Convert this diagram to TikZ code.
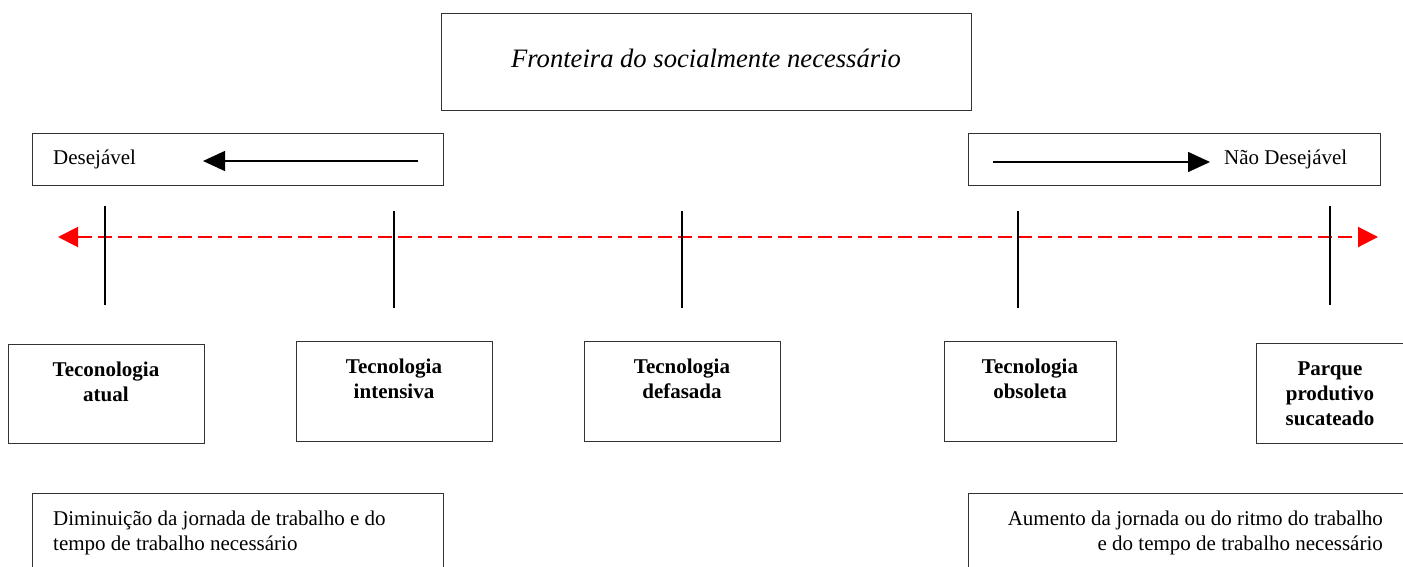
\documentclass[tikz,border=0pt]{standalone}
\usepackage{fontspec}
\setmainfont{Liberation Serif}
\usetikzlibrary{arrows.meta}
\begin{document}
\begin{tikzpicture}[x=1pt,y=-1pt,
  box/.style={draw=black!80, line width=1.2pt, inner sep=0pt, anchor=north west},
  txt/.style={inner sep=0pt, font=\fontsize{21}{25}\selectfont},
  btxt/.style={inner sep=0pt, font=\fontsize{21}{25}\selectfont\bfseries, align=center, anchor=north},
  vline/.style={line width=2pt},
  harrow/.style={line width=1.5pt, -{Triangle[length=22pt,width=20pt]}},
  redline/.style={draw=red, line width=2pt, dash pattern=on 14pt off 6pt,
     {Triangle[length=20pt,width=20pt]}-{Triangle[length=20pt,width=20pt]}}]
\useasboundingbox (0,0) rectangle (1403,567);
\clip (0,0) rectangle (1403,567);

% top box
\node[box, minimum width=530pt, minimum height=97pt] (top) at (441,13) {};
\node[inner sep=0pt, font=\fontsize{26.6}{30}\selectfont\itshape] (title) at (706,58) {Fronteira do socialmente necessário};

% desejavel boxes
\node[box, minimum width=411pt, minimum height=52pt] (des) at (32,133) {};
\node[txt, anchor=west] (destxt) at (53,159) {Desejável};
\coordinate (da) at (418,161);
\coordinate (db) at (203,161);
\draw[harrow] (da) -- (db);

\node[box, minimum width=412pt, minimum height=52pt] (ndes) at (968,133) {};
\node[txt, anchor=west] (ndestxt) at (1224,159) {Não Desejável};
\coordinate (na) at (993,162);
\coordinate (nb) at (1210,162);
\draw[harrow] (na) -- (nb);

% red dashed axis
\coordinate (rl) at (58,237);
\coordinate (rr) at (1378,237);
\draw[redline] (rl) -- (rr);

% vertical ticks
\coordinate (v1a) at (105,206); \coordinate (v1b) at (105,305);
\coordinate (v2a) at (394,211); \coordinate (v2b) at (394,308);
\coordinate (v3a) at (682,211); \coordinate (v3b) at (682,308);
\coordinate (v4a) at (1018,211); \coordinate (v4b) at (1018,308);
\coordinate (v5a) at (1330,206); \coordinate (v5b) at (1330,305);
\draw[vline] (v1a) -- (v1b);
\draw[vline] (v2a) -- (v2b);
\draw[vline] (v3a) -- (v3b);
\draw[vline] (v4a) -- (v4b);
\draw[vline] (v5a) -- (v5b);

% technology boxes
\node[box, minimum width=196pt, minimum height=99pt] (b1) at (8,344) {};
\node[btxt] (t1) at (106,362) {Teconologia\\atual};
\node[box, minimum width=196pt, minimum height=100pt] (b2) at (296,341) {};
\node[btxt] (t2) at (394,359) {Tecnologia\\intensiva};
\node[box, minimum width=196pt, minimum height=100pt] (b3) at (584,341) {};
\node[btxt] (t3) at (682,359) {Tecnologia\\defasada};
\node[box, minimum width=172pt, minimum height=100pt] (b4) at (944,341) {};
\node[btxt] (t4) at (1030,359) {Tecnologia\\obsoleta};
\node[box, minimum width=200pt, minimum height=100pt] (b5) at (1256,343) {};
\node[btxt] (t5) at (1330,362) {Parque\\produtivo\\sucateado};

% bottom boxes
\node[box, minimum width=411pt, minimum height=120pt] (bl) at (32,493) {};
\node[txt, anchor=north west, align=left] (bltxt) at (53,511) {Diminuição da jornada de trabalho e do\\tempo de trabalho necessário};
\node[box, minimum width=500pt, minimum height=120pt] (br) at (968,493) {};
\node[txt, anchor=north east, align=right] (brtxt) at (1383,511) {Aumento da jornada ou do ritmo do trabalho\\e do tempo de trabalho necessário};
\end{tikzpicture}
\end{document}
